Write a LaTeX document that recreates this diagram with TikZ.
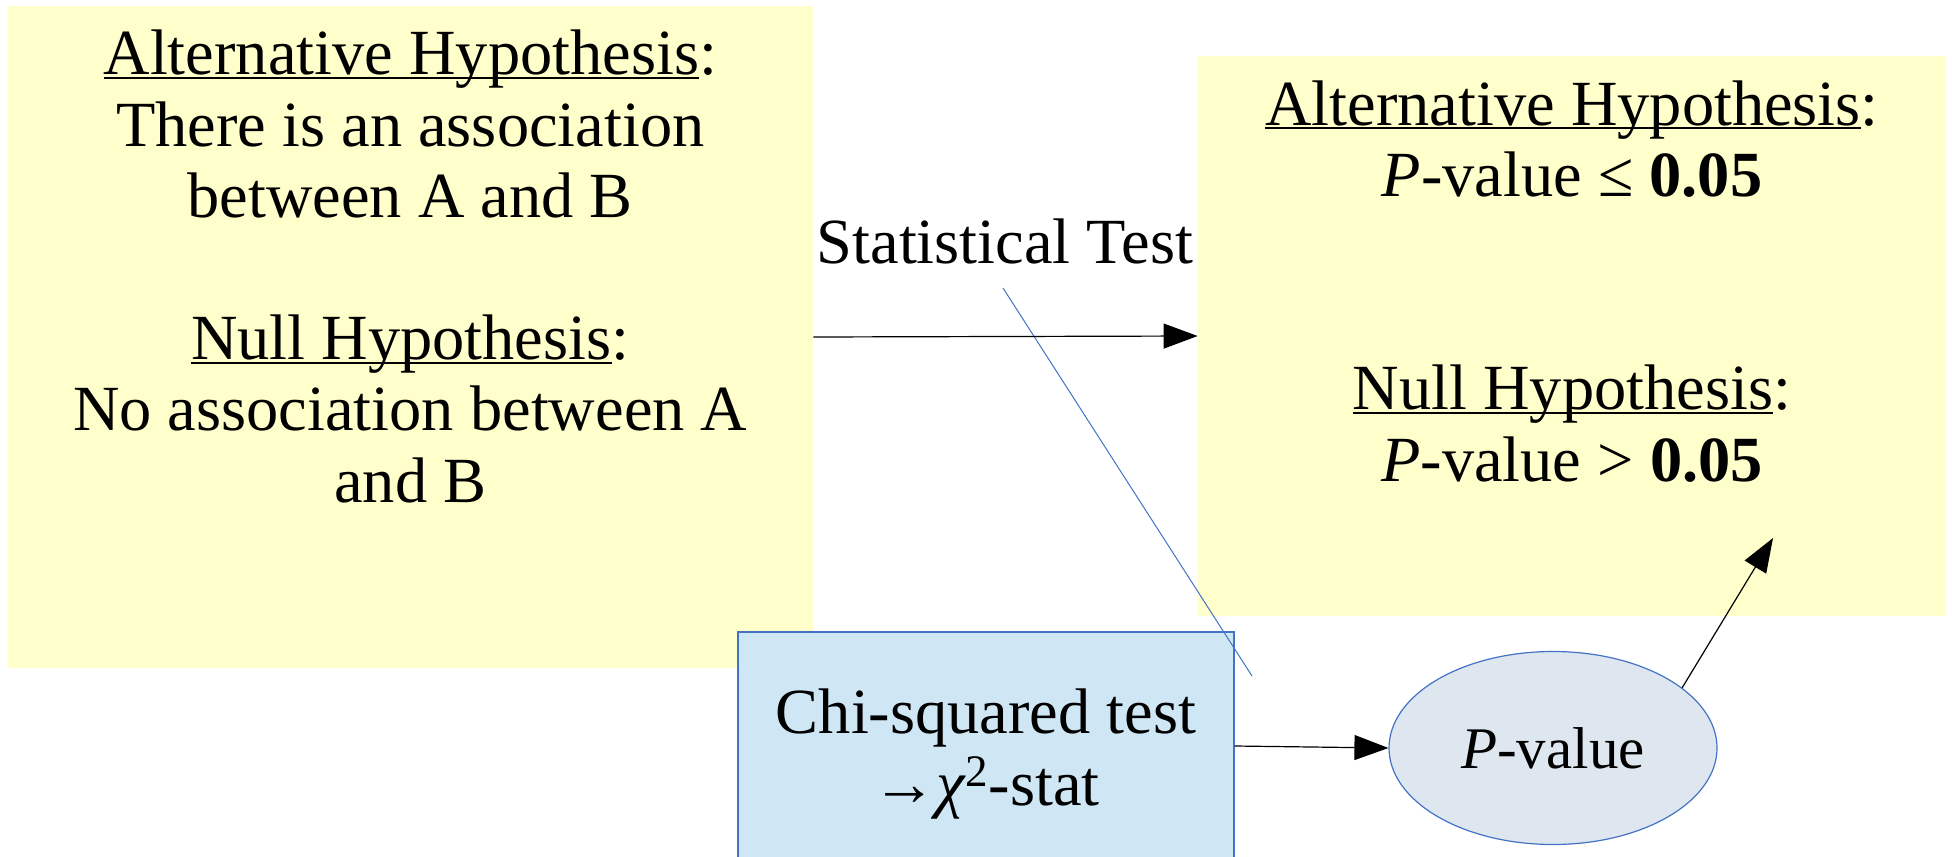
\documentclass[tikz,border=0pt]{standalone}
\usepackage{fontspec}
\setmainfont{Liberation Serif}
\usepackage{xcolor}
\usepackage{tikz}
\usetikzlibrary{arrows.meta,shapes,positioning,calc}

\definecolor{hypyellow}{RGB}{255,255,204}
\definecolor{testblue}{RGB}{207,231,245}
\definecolor{pvalgrey}{RGB}{222,230,239}
\definecolor{edgeblue}{RGB}{68,114,196}

\newcommand{\uln}[1]{\setbox0\hbox{#1}\rlap{\rule[-2.2pt]{\wd0}{1.1pt}}\box0}
\newcommand{\pv}{\textit{P}-value}

\tikzset{
  hyp box/.style={rectangle, fill=hypyellow, draw=none, inner sep=0pt},
  big text/.style={font=\fontsize{32.2}{35.6}\selectfont, inner sep=0pt, align=center},
  connector/.style={-{Triangle[length=17pt,width=12.5pt]}, line width=0.6pt},
}

\begin{document}
\begin{tikzpicture}[x=0.5pt,y=0.5pt,yscale=-1]
  \useasboundingbox (0,0) rectangle (1952,856);

  %Shape: Rectangle
  \node [hyp box, minimum width=402.75pt, minimum height=331pt] (hypbox) at (410.25,337) {};
  %Shape: Rectangle
  \node [hyp box, minimum width=374pt, minimum height=280pt] (resbox) at (1572,336) {};
  %Shape: Rectangle
  \node [rectangle, fill=testblue, draw=edgeblue, line width=0.6pt, inner sep=0pt, minimum width=248pt, minimum height=114pt] (chibox) at (986,746) {};
  %Shape: Ellipse
  \node [ellipse, fill=pvalgrey, draw=edgeblue, line width=0.6pt, inner sep=0pt, minimum width=164pt, minimum height=96.5pt, big text, font=\fontsize{29.5}{33}\selectfont] (pval) at (1553,748) {\pv};

  %Straight Lines
  \coordinate (linetop) at (1003,288);
  \coordinate (linebot) at (1252,676);
  \draw [color=edgeblue, line width=0.5pt] (linetop) -- (linebot);
  %Straight Lines
  \draw [connector] (hypbox.east) -- (resbox.west);
  %Straight Lines
  \draw [connector] (chibox.east) -- (pval.west);
  %Straight Lines
  \coordinate (pvtip) at (1773,538);
  \draw [connector] (pval.25) -- (pvtip);

  % Text Node (base = last line)
  \node [big text, anchor=base] (hyptext) at (410.25,502) {\uln{Alternative Hypothesis}:\\There is an association\\between A and B\\~\\\uln{Null Hypothesis}:\\No association between A\\and B};
  % Text Node
  \node [big text, anchor=base] (restext) at (1572,481) {\uln{Alternative Hypothesis}:\\\pv{} ≤ \textbf{0.05}\\~\\~\\\uln{Null Hypothesis}:\\\pv{} > \textbf{0.05}};
  % Text Node
  \node [big text, anchor=base] (stat) at (1005,263) {Statistical Test};
  % Text Node
  \node [big text, anchor=base] (chitext) at (986,805) {Chi-squared test\\→{\itshape χ}\textsuperscript{2}-stat};

\end{tikzpicture}
\end{document}
